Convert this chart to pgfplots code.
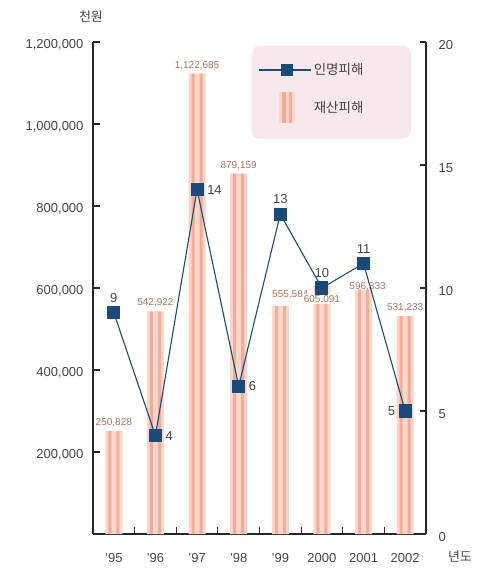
\documentclass[border=0pt]{standalone}
\usepackage{pgfplots}
\pgfplotsset{compat=1.18}
\usepackage{fontspec}
\setmainfont{Liberation Sans}
\newfontfamily\kr{Noto Sans CJK KR}

\definecolor{barpale}{HTML}{F8D6C9}
\definecolor{barstripe}{HTML}{F0AE9A}
\definecolor{navy}{HTML}{1B4A78}
\definecolor{txt}{HTML}{444444}
\definecolor{lbl}{HTML}{A8705F}
\definecolor{legbg}{HTML}{F6E8EC}

\pgfplotsset{
  common/.style={
    width=333pt, height=492pt, scale only axis,
    xmin=-0.5, xmax=7.5,
    tick align=inside,
    axis line style={-, line width=1.3pt, black!85},
    tick style={line width=1.1pt, black!85},
    major tick length=6pt,
    ticklabel style={font=\fontsize{13}{15}\selectfont, text=txt},
    /pgf/number format/assume math mode=true,
    scaled y ticks=false,
  },
}

\begin{document}
\begin{tikzpicture}
% left axis: property damage (bars)
\begin{axis}[common,
    name=main,
    axis x line*=bottom, axis y line*=left,
    ymin=0, ymax=1200000,
    ytick={0,200000,400000,600000,800000,1000000,1200000},
    yticklabels={{},{200,000},{400,000},{600,000},{800,000},{1,000,000},{1,200,000}},
    yticklabel style={xshift=-6pt, yshift=-3pt},
    xtick={0.5,1.5,...,6.5}, xticklabels={},
    major tick length=7pt,
    extra x ticks={0,1,...,7},
    extra x tick labels={’95,’96,’97,’98,’99,2000,2001,2002},
    extra x tick style={major tick length=0pt, ticklabel style={yshift=-16pt}},
    clip=false,
  ]
\addplot[ybar, bar width=17pt, bar shift=0pt, fill=barpale, draw=none]
  coordinates {(0,250828)(1,542922)(2,1122685)(3,879159)(4,555584)(5,605091)(6,596333)(7,531233)};
\addplot[ybar, bar width=3pt, bar shift=-4pt, fill=barstripe, draw=none]
  coordinates {(0,250828)(1,542922)(2,1122685)(3,879159)(4,555584)(5,605091)(6,596333)(7,531233)};
\addplot[ybar, bar width=3pt, bar shift=4pt, fill=barstripe, draw=none]
  coordinates {(0,250828)(1,542922)(2,1122685)(3,879159)(4,555584)(5,605091)(6,596333)(7,531233)};

\begin{scope}[every node/.style={font=\fontsize{10}{12}\selectfont, text=lbl, inner sep=1pt}]
\node[above=3pt] at (axis cs:0,250828) {250,828};
\node[above=3pt] at (axis cs:1,542922) {542,922};
\node[above=3pt] at (axis cs:2,1122685) {1,122,685};
\node[above=3pt] at (axis cs:3,879159) {879,159};
\node[above=6pt, xshift=10pt] at (axis cs:4,555584) {555,584};
\node[below=8pt, fill=white] at (axis cs:5,605091) {605,091};
\node[above=-2pt, xshift=4pt] at (axis cs:6,596333) {596,333};
\node[above=3pt] at (axis cs:7,531233) {531,233};
\end{scope}

\node[font=\kr\fontsize{13}{15}\selectfont, text=txt] at ([shift={(-2pt,25pt)}]rel axis cs:0,1) {천원};
\node[font=\kr\fontsize{13}{15}\selectfont, text=txt] at ([shift={(34pt,-23pt)}]rel axis cs:1,0) {년도};
\end{axis}

% right axis: casualties (line)
\begin{axis}[common,
    axis x line=none, axis y line*=right,
    ymin=0, ymax=20,
    ytick={0,5,10,15,20},
    yticklabel style={xshift=9pt, yshift=-3pt},
    legend style={at={(0.955,0.993)}, anchor=north east, fill=legbg, draw=none,
      rounded corners=8pt, inner xsep=7pt, inner ysep=16pt, row sep=14pt,
      font=\kr\fontsize{13.5}{15}\selectfont, text=txt},
    legend cell align=left,
    clip=false,
  ]
\addplot[navy, line width=1.1pt, mark=square*, mark size=6pt, mark options={fill=navy},
    legend image code/.code={
      \draw[sharp corners, navy, line width=1.1pt] (0pt,0pt) -- (52pt,0pt);
      \fill[sharp corners, navy] (22pt,-5.5pt) rectangle (33pt,5.5pt);
    }]
  coordinates {(0,9)(1,4)(2,14)(3,6)(4,13)(5,10)(6,11)(7,5)};
\addlegendentry{\makebox[88pt][l]{인명피해}}
\addlegendimage{legend image code/.code={
      \fill[sharp corners, barpale] (20pt,-15pt) rectangle (35pt,15pt);
      \fill[sharp corners, barstripe] (23pt,-15pt) rectangle (25.5pt,15pt);
      \fill[sharp corners, barstripe] (29.5pt,-15pt) rectangle (32pt,15pt);
    }}
\addlegendentry{\makebox[88pt][l]{재산피해}}

\begin{scope}[every node/.style={font=\fontsize{13}{15}\selectfont, text=txt, inner sep=1pt}]
\node[above=9pt] at (axis cs:0,9) {9};
\node[right=9pt] at (axis cs:1,4) {4};
\node[right=9pt] at (axis cs:2,14) {14};
\node[right=9pt] at (axis cs:3,6) {6};
\node[above=9pt] at (axis cs:4,13) {13};
\node[above=9pt] at (axis cs:5,10) {10};
\node[above=9pt] at (axis cs:6,11) {11};
\node[left=9pt] at (axis cs:7,5) {5};
\end{scope}
\end{axis}

\pgfresetboundingbox
\path ([shift={(-93pt,-37pt)}]main.south west) rectangle ([shift={(56pt,42pt)}]main.north east);
\end{tikzpicture}
\end{document}
